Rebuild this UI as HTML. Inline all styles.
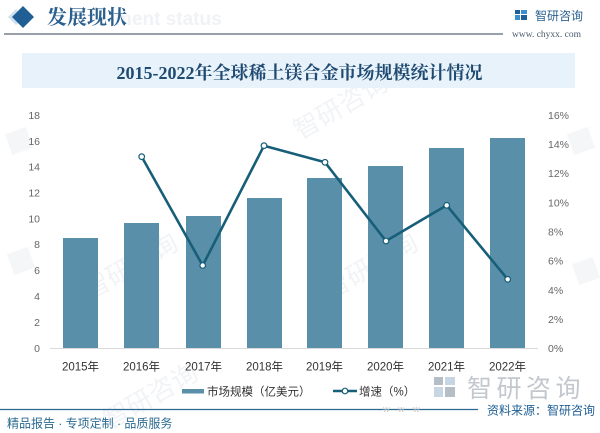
<!DOCTYPE html>
<html><head><meta charset="utf-8">
<style>
html,body{margin:0;padding:0;background:#fff;}
body{width:600px;height:433px;overflow:hidden;position:relative;font-family:"Liberation Sans","Noto Sans CJK SC",sans-serif;}
svg{position:absolute;left:0;top:0;}
</style></head>
<body>
<svg width="600" height="433" viewBox="0 0 600 433" xmlns="http://www.w3.org/2000/svg">
  <rect width="600" height="433" fill="#ffffff"/>
  <!-- faint watermarks -->
  <g fill="#f1f3f6" font-family="'Noto Sans CJK SC',sans-serif" font-size="26">
    <text x="300" y="140" transform="rotate(-30 300 140)">智研咨询</text>
    <text x="90" y="300" transform="rotate(-30 90 300)">智研咨询</text>
    <text x="330" y="300" transform="rotate(-30 330 300)">智研咨询</text>
    <text x="110" y="430" transform="rotate(-30 110 430)">智研咨询</text>
  </g>
  <g fill="#f4f6f8">
    <rect x="8" y="130" width="22" height="22" transform="rotate(-20 19 141)"/>
    <rect x="10" y="250" width="22" height="22" transform="rotate(-20 21 261)"/>
    <rect x="570" y="130" width="22" height="22" transform="rotate(-20 581 141)"/>
    <rect x="575" y="260" width="22" height="22" transform="rotate(-20 586 271)"/>
  </g>

  <!-- header -->
  <polygon points="14,17 22,9 30,17 22,25" fill="#cfe0ee" transform="translate(-6,0)"/>
  <polygon points="12,17 23,6 34,17 23,28" fill="#1f5f95"/>
  <text x="115" y="25" font-family="'Liberation Sans',sans-serif" font-weight="bold" font-size="19" fill="#f0f2f5">ment status</text>
  <text x="47" y="24" font-family="'Noto Serif CJK SC',serif" font-weight="bold" font-size="20" fill="#2a5f8e">发展现状</text>
  <line x1="4" y1="34" x2="503" y2="34" stroke="#5a6878" stroke-width="1.2"/>
  <!-- logo top right -->
  <g>
    <rect x="515" y="10" width="5" height="4" fill="#1f5f95"/>
    <rect x="521" y="10" width="6" height="4" fill="#3a8fd0"/>
    <rect x="515" y="15" width="5" height="5" fill="#3a8fd0"/>
    <rect x="521" y="15" width="6" height="5" fill="#1f5f95"/>
  </g>
  <text x="535" y="20" font-family="'Noto Sans CJK SC',sans-serif" font-size="12" fill="#2a5f8e">智研咨询</text>
  <text x="512" y="37" font-family="'Liberation Serif',serif" font-size="9.5" fill="#4a5a6a">www. chyxx. com</text>

  <!-- title banner -->
  <rect x="22" y="53" width="553" height="35" fill="#e8f2fa"/>
  <text x="299.5" y="79" text-anchor="middle" font-family="'Liberation Serif','Noto Serif CJK SC',serif" font-weight="bold" font-size="18" fill="#1f4a72">2015-2022年全球稀土镁合金市场规模统计情况</text>

  <!-- left axis labels -->
  <g font-family="'Liberation Sans',sans-serif" font-size="10.5" fill="#666" text-anchor="end">
    <text x="40" y="352">0</text>
    <text x="40" y="326">2</text>
    <text x="40" y="300">4</text>
    <text x="40" y="274">6</text>
    <text x="40" y="248">8</text>
    <text x="40" y="222.5">10</text>
    <text x="40" y="196.5">12</text>
    <text x="40" y="170.5">14</text>
    <text x="40" y="145">16</text>
    <text x="40" y="119">18</text>
  </g>
  <!-- right axis labels -->
  <g font-family="'Liberation Sans',sans-serif" font-size="10.5" fill="#666" text-anchor="start">
    <text x="548" y="352">0%</text>
    <text x="548" y="323">2%</text>
    <text x="548" y="294">4%</text>
    <text x="548" y="264.5">6%</text>
    <text x="548" y="235.5">8%</text>
    <text x="548" y="206.5">10%</text>
    <text x="548" y="177">12%</text>
    <text x="548" y="148">14%</text>
    <text x="548" y="119">16%</text>
  </g>

  <!-- axis line -->
  <line x1="50" y1="348.5" x2="538" y2="348.5" stroke="#d9d9d9" stroke-width="1"/>

  <!-- bars -->
  <g fill="#5a8fa9">
    <rect x="63" y="238" width="35" height="110"/>
    <rect x="124" y="223" width="35" height="125"/>
    <rect x="186" y="216" width="35" height="132"/>
    <rect x="247" y="198" width="35" height="150"/>
    <rect x="307" y="178" width="35" height="170"/>
    <rect x="368" y="166" width="35" height="182"/>
    <rect x="429" y="148" width="35" height="200"/>
    <rect x="490" y="138" width="35" height="210"/>
  </g>

  <!-- line -->
  <polyline points="141.7,156.7 202.7,265.5 264,145.7 325,162.3 386,241 446.7,205.3 507.7,279.3" fill="none" stroke="#175f78" stroke-width="2.6" stroke-linejoin="round"/>
  <g fill="#ffffff" stroke="#175f78" stroke-width="1.2">
    <circle cx="141.7" cy="156.7" r="2.8"/>
    <circle cx="202.7" cy="265.5" r="2.8"/>
    <circle cx="264" cy="145.7" r="2.8"/>
    <circle cx="325" cy="162.3" r="2.8"/>
    <circle cx="386" cy="241" r="2.8"/>
    <circle cx="446.7" cy="205.3" r="2.8"/>
    <circle cx="507.7" cy="279.3" r="2.8"/>
  </g>

  <!-- x labels -->
  <g font-family="'Liberation Sans','Noto Sans CJK SC',sans-serif" font-size="11.5" fill="#333" text-anchor="middle">
    <text x="80.5" y="370.5">2015年</text>
    <text x="141.5" y="370.5">2016年</text>
    <text x="203.5" y="370.5">2017年</text>
    <text x="264.5" y="370.5">2018年</text>
    <text x="324.5" y="370.5">2019年</text>
    <text x="385.5" y="370.5">2020年</text>
    <text x="446.5" y="370.5">2021年</text>
    <text x="507.5" y="370.5">2022年</text>
  </g>

  <!-- legend -->
  <rect x="182" y="389" width="22" height="4.5" fill="#5a8fa9"/>
  <text x="207" y="395.5" font-family="'Liberation Sans','Noto Sans CJK SC',sans-serif" font-size="11.5" fill="#333">市场规模（亿美元）</text>
  <line x1="333" y1="391" x2="357" y2="391" stroke="#175f78" stroke-width="2.6"/>
  <circle cx="345" cy="391" r="2.8" fill="#fff" stroke="#175f78" stroke-width="1.2"/>
  <text x="359" y="395.5" font-family="'Liberation Sans','Noto Sans CJK SC',sans-serif" font-size="11.5" fill="#333">增速（%）</text>

  <!-- watermark logo bottom right -->
  <g opacity="0.55">
    <rect x="434" y="377" width="9" height="8" fill="#7a8a9a"/>
    <rect x="445" y="377" width="10" height="8" fill="#9ab6cc"/>
    <rect x="434" y="387" width="9" height="10" fill="#9ab6cc"/>
    <rect x="445" y="387" width="10" height="10" fill="#7a8a9a"/>
  </g>
  <text x="467" y="397" font-family="'Noto Sans CJK SC',sans-serif" font-size="25" letter-spacing="4.5" fill="#c2c8ce">智研咨询</text>

  <!-- footer -->
  <line x1="0" y1="409.5" x2="478" y2="409.5" stroke="#2a6a90" stroke-width="1.2"/>
  <text x="383" y="412" font-family="'Liberation Sans',sans-serif" font-size="9" fill="#c8ccd0" letter-spacing="3">w w w</text>
  <text x="487" y="414.5" font-family="'Liberation Sans','Noto Sans CJK SC',sans-serif" font-size="12" fill="#1f5f95">资料来源：智研咨询</text>
  <text x="7" y="427.5" font-family="'Liberation Sans','Noto Sans CJK SC',sans-serif" font-size="12" fill="#2a6a90">精品报告 · 专项定制 · 品质服务</text>
</svg>
</body></html>
